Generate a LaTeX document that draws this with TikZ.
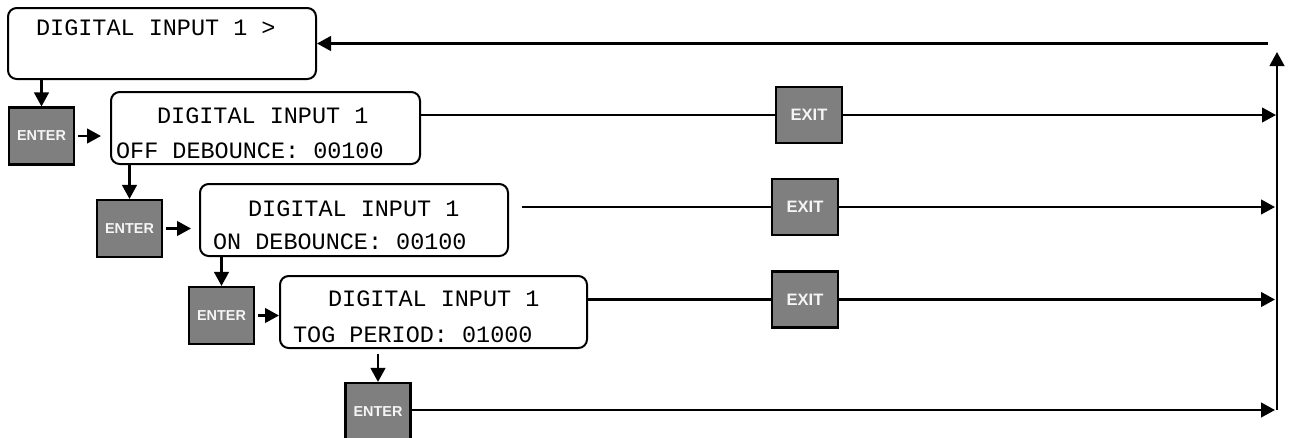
\documentclass[tikz,border=0pt]{standalone}
\usepackage{fontspec}
\setmainfont{Liberation Sans}
\newfontfamily\lcdfont{Liberation Mono}
\newfontfamily\keyfont{Liberation Sans Bold}
\usetikzlibrary{arrows.meta}
\definecolor{keygray}{RGB}{127,127,127}
\definecolor{keytext}{RGB}{245,245,245}
\tikzset{
  screen/.style 2 args={draw, line width=1.5pt, rounded corners=6.5pt, inner sep=0pt,
    minimum width=#1*0.75pt, minimum height=#2*0.75pt},
  lcd/.style={inner sep=0pt, anchor=base west, font=\lcdfont\fontsize{17.6}{20}\selectfont},
  enterkey/.style={draw, line width=1.6pt, fill=keygray, text=keytext, inner sep=0pt,
    minimum width=48.75pt, minimum height=42.75pt, font=\keyfont\fontsize{10.8}{12}\selectfont},
  exitkey/.style={draw, line width=1.6pt, fill=keygray, text=keytext, inner sep=0pt,
    minimum width=49.5pt, minimum height=42pt, font=\keyfont\fontsize{12.4}{14}\selectfont},
  flow/.style={-{Triangle[length=10.5pt,width=11pt]}}
}
\begin{document}
\begin{tikzpicture}[x=0.75pt, y=-0.75pt, line width=1.7pt]
  \useasboundingbox (0,0) rectangle (1293,437);
  % screens
  \node[screen={308}{71}] (menu) at (162,43.5) {};
  \node[lcd] (menutxt) at ([shift={(28,28)}]menu.north west) {DIGITAL INPUT 1 >};
  \node[screen={309}{72}] (offdb) at (265.5,128) {};
  \node[lcd] (offdbtop) at ([shift={(46,32)}]offdb.north west) {DIGITAL INPUT 1};
  \node[lcd] (offdbval) at ([shift={(5,67)}]offdb.north west) {OFF DEBOUNCE: 00100};
  \node[screen={308}{72}] (ondb) at (354,220) {};
  \node[lcd] (ondbtop) at ([shift={(48,33)}]ondb.north west) {DIGITAL INPUT 1};
  \node[lcd] (ondbval) at ([shift={(13,66)}]ondb.north west) {ON DEBOUNCE: 00100};
  \node[screen={307}{72}] (togp) at (433.5,312) {};
  \node[lcd] (togptop) at ([shift={(48,31)}]togp.north west) {DIGITAL INPUT 1};
  \node[lcd] (togpval) at ([shift={(13,67)}]togp.north west) {TOG PERIOD: 01000};
  % keys
  \node[enterkey] (enter1) at (41.5,136) {ENTER};
  \node[enterkey] (enter2) at (129.5,228.5) {ENTER};
  \node[enterkey] (enter3) at (221.5,315.5) {ENTER};
  \node[enterkey] (enter4) at (378,411.5) {ENTER};
  \node[exitkey] (exit1) at (809,115) {EXIT};
  \node[exitkey] (exit2) at (805,207) {EXIT};
  \node[exitkey] (exit3) at (805,299.5) {EXIT};
  % return line on the right
  \coordinate (rbot) at (1277,410);
  \coordinate (rtop) at (1277,52);
  \coordinate (back) at (1268,43.5);
  \coordinate (ondbout) at (522,207);
  \draw[flow] (rbot) -- (rtop);
  \draw[flow] (back) -- (menu.east);
  % enter path
  \draw[flow] (menu.south -| enter1) -- (enter1.north);
  \draw[flow, shorten <=2.25pt, shorten >=6.75pt] (enter1.east) -- (enter1 -| offdb.west);
  \draw[flow] (offdb.south -| enter2) -- (enter2.north);
  \draw[flow, shorten <=2.25pt, shorten >=6pt] (enter2.east) -- (enter2 -| ondb.west);
  \draw[flow] (ondb.south -| enter3) -- (enter3.north);
  \draw[flow, shorten <=2.5pt] (enter3.east) -- (enter3 -| togp.west);
  \draw[flow, shorten <=3.75pt] (togp.south -| enter4) -- (enter4.north);
  % exit rows
  \draw (offdb.east |- exit1) -- (exit1.west);
  \draw[flow] (exit1.east) -- ([xshift=-0.75pt]rbot |- exit1);
  \draw (ondbout) -- (exit2.west);
  \draw[flow] (exit2.east) -- ([xshift=-1.5pt]rbot |- exit2);
  \draw (togp.east |- exit3) -- (exit3.west);
  \draw[flow] (exit3.east) -- ([xshift=-1.5pt]rbot |- exit3);
  \draw[flow] (enter4.east |- rbot) -- ([xshift=-1.5pt]rbot);
\end{tikzpicture}
\end{document}
